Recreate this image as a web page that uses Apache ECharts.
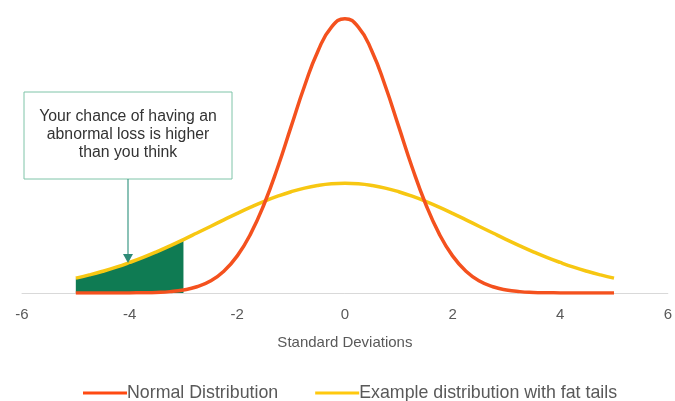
<!DOCTYPE html>
<html>
<head>
<meta charset="utf-8">
<script src="https://cdn.jsdelivr.net/npm/echarts@6/dist/echarts.min.js"></script>
<style>
  html, body { margin: 0; padding: 0; background: #fff; }
  #main { width: 675px; height: 401px; }
</style>
</head>
<body>
<div id="main"></div>
<script>
// x positions in standard deviations
var xs = [-5, -4.75, -4.5, -4.25, -4, -3.75, -3.5, -3.25, -3, -2.75, -2.5, -2.25, -2, -1.75, -1.5, -1.25, -1, -0.75, -0.5, -0.25,
  0, 0.25, 0.5, 0.75, 1, 1.25, 1.5, 1.75, 2, 2.25, 2.5, 2.75, 3, 3.25, 3.5, 3.75, 4, 4.25, 4.5, 4.75, 5];

// Normal Distribution (red)
var normalVals = [0, 0, 0, 0, 0.0001, 0.0004, 0.0009, 0.002, 0.0044, 0.0091, 0.0175, 0.0317, 0.054, 0.0863, 0.1295, 0.1826, 0.242, 0.3011, 0.3521, 0.3867,
  0.3989, 0.3867, 0.3521, 0.3011, 0.242, 0.1826, 0.1295, 0.0863, 0.054, 0.0317, 0.0175, 0.0091, 0.0044, 0.002, 0.0009, 0.0004, 0.0001, 0, 0, 0, 0];

// Example distribution with fat tails (yellow)
var fatVals = [0.0216, 0.0263, 0.0316, 0.0376, 0.0444, 0.0518, 0.0599, 0.0686, 0.0777, 0.0872, 0.0968, 0.1064, 0.1159, 0.1249, 0.1333, 0.1408, 0.1473, 0.1526, 0.1564, 0.1588,
  0.1596, 0.1588, 0.1564, 0.1526, 0.1473, 0.1408, 0.1333, 0.1249, 0.1159, 0.1064, 0.0968, 0.0872, 0.0777, 0.0686, 0.0599, 0.0518, 0.0444, 0.0376, 0.0316, 0.0263, 0.0216];

// shaded tail region (x from -5 to -3)
var tailEnd = -3;

var seriesNames = ['Normal Distribution', 'Example distribution with fat tails'];
var xTicks = { min: -6, max: 6, step: 2 };
var noteLines = ['Your chance of having an', 'abnormal loss is higher', 'than you think'];

var FONT = '"Liberation Sans", Arial, sans-serif';

function pairs(vals) {
  return xs.map(function (x, i) { return [x, vals[i]]; });
}
var tailData = pairs(fatVals).filter(function (p) { return p[0] <= tailEnd; });

var chart = echarts.init(document.getElementById('main'));

var option = {
  backgroundColor: '#fff',
  animation: false,
  textStyle: { fontFamily: FONT },
  grid: { left: 22, right: 5, top: 18, bottom: 108 },
  xAxis: {
    type: 'value',
    min: xTicks.min,
    max: xTicks.max,
    interval: xTicks.step,
    name: 'Standard Deviations',
    nameLocation: 'middle',
    nameGap: 42,
    nameTextStyle: { color: '#595959', fontSize: 15, fontFamily: FONT },
    axisLine: { show: true, lineStyle: { color: '#d9d9d9', width: 1 } },
    axisTick: { show: false },
    splitLine: { show: false },
    axisLabel: { color: '#595959', fontSize: 15, margin: 14, fontFamily: FONT }
  },
  yAxis: {
    type: 'value',
    min: 0,
    max: 0.4,
    show: false
  },
  legend: {
    data: seriesNames,
    top: 379,
    left: 78,
    icon: 'rect',
    itemWidth: 44,
    itemHeight: 3,
    itemGap: 37,
    textStyle: { color: '#595959', fontSize: 17.8, fontFamily: FONT, padding: [0, 0, 0, -5] }
  },
  graphic: [
    {
      type: 'rect',
      shape: { x: 24, y: 92, width: 208, height: 87 },
      style: { fill: '#fff', stroke: '#7fc4a8', lineWidth: 1 },
      z: 10
    },
    {
      type: 'text',
      x: 128,
      y: 108,
      style: {
        text: noteLines.join('\n'),
        fill: '#333',
        font: '15.8px ' + FONT,
        align: 'center',
        verticalAlign: 'top',
        lineHeight: 18
      },
      z: 11
    },
    {
      type: 'line',
      shape: { x1: 128, y1: 179, x2: 128, y2: 255 },
      style: { stroke: '#3d9986', lineWidth: 1.2 },
      z: 10
    },
    {
      type: 'polygon',
      shape: { points: [[123, 254], [133, 254], [128, 263]] },
      style: { fill: '#2e8a76' },
      z: 10
    }
  ],
  series: [
    {
      name: 'tail',
      type: 'line',
      data: tailData,
      symbol: 'none',
      smooth: true,
      lineStyle: { width: 0 },
      areaStyle: { color: '#0f7b53', opacity: 1 },
      z: 1,
      silent: true
    },
    {
      name: seriesNames[1],
      type: 'line',
      data: pairs(fatVals),
      symbol: 'none',
      smooth: true,
      color: '#ffc90e',
      lineStyle: { color: '#f7c712', width: 3.5 },
      z: 3
    },
    {
      name: seriesNames[0],
      type: 'line',
      data: pairs(normalVals),
      symbol: 'none',
      smooth: true,
      color: '#ff4a12',
      lineStyle: { color: '#f4511e', width: 3.5 },
      z: 4
    }
  ]
};

chart.setOption(option);
</script>
</body>
</html>
